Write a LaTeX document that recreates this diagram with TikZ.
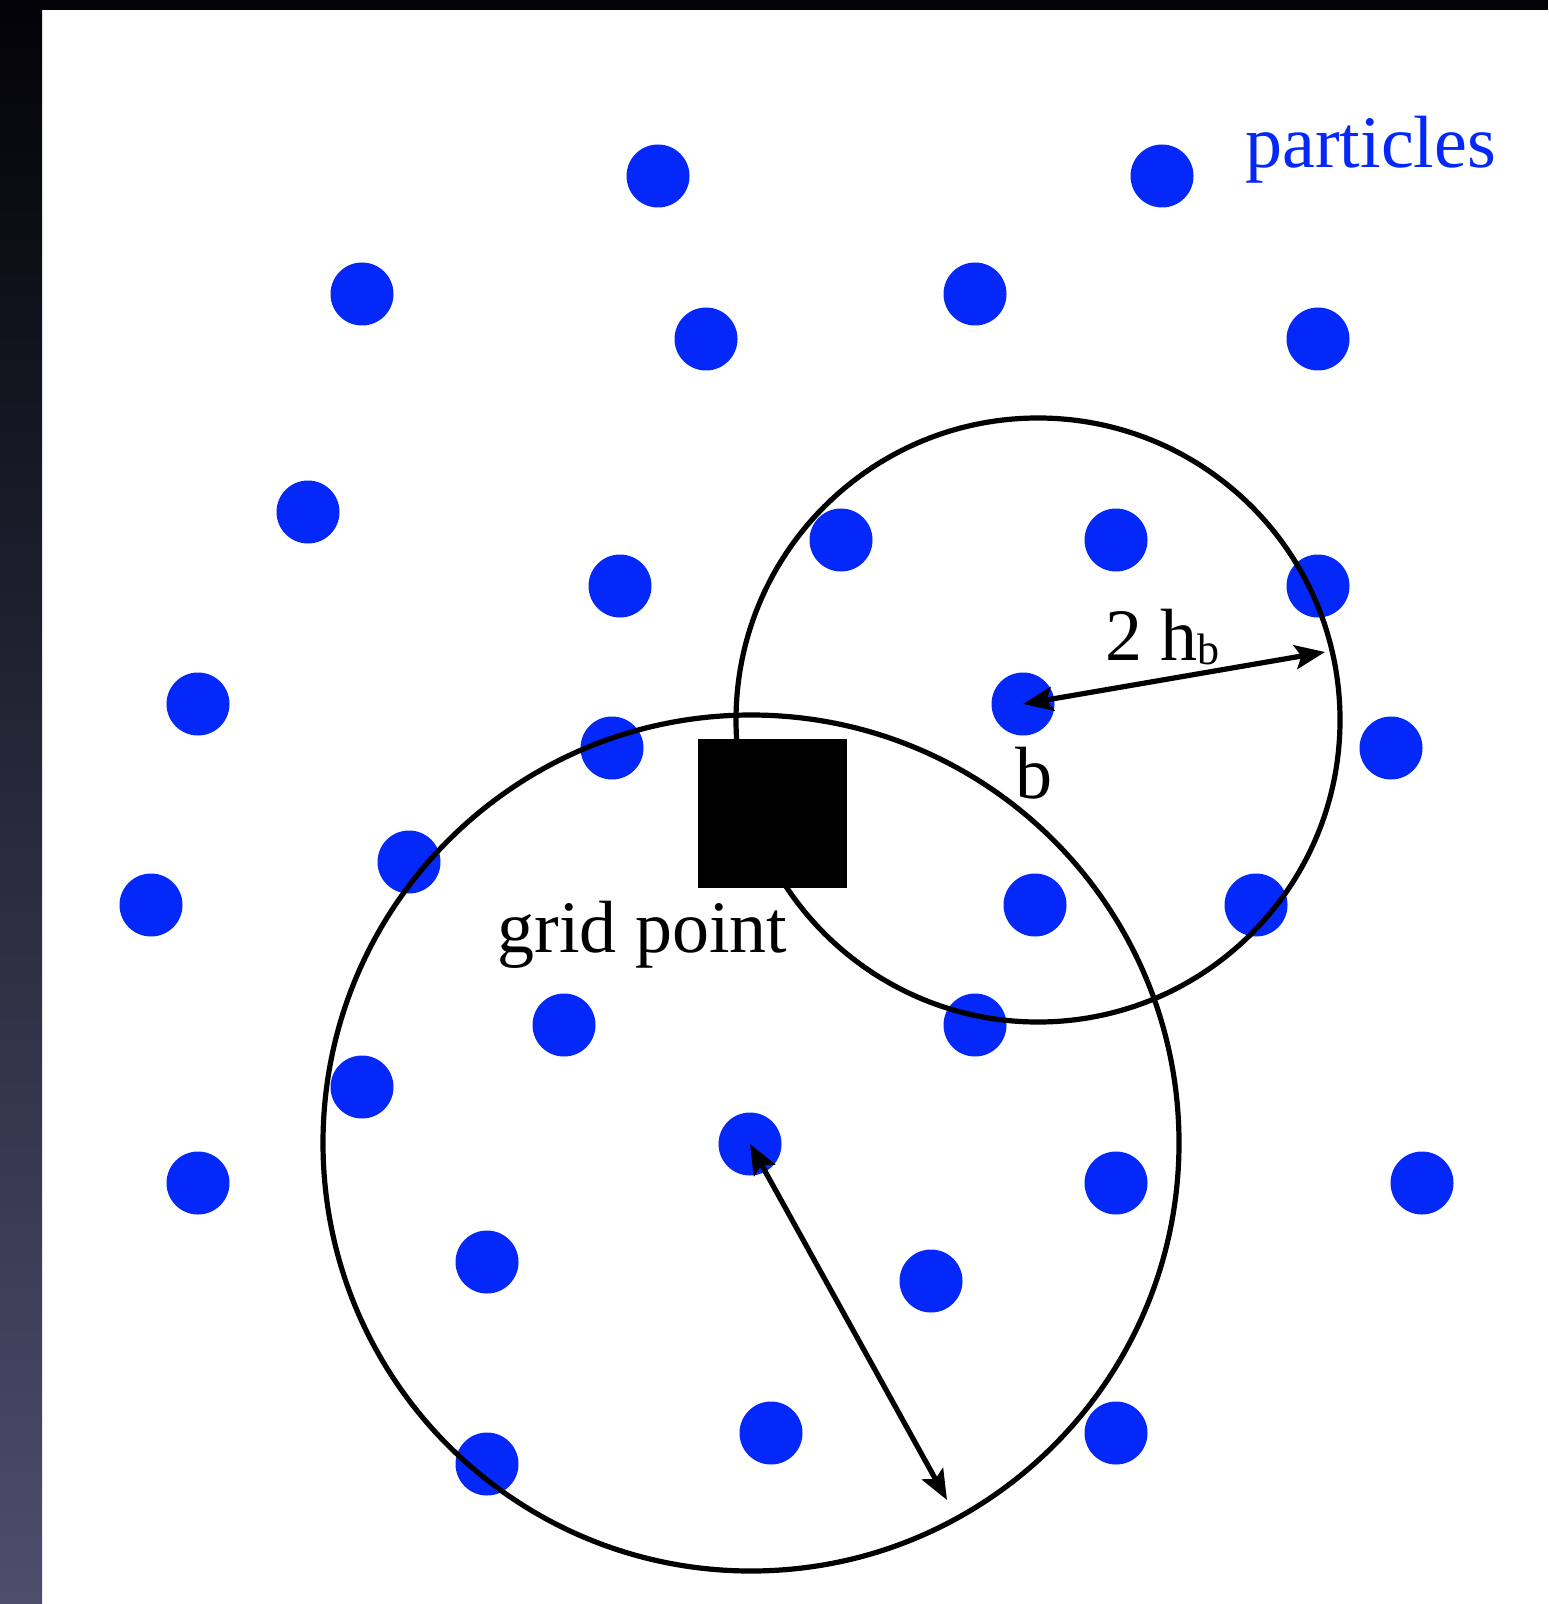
\documentclass[tikz,border=0pt]{standalone}
\usepackage{fontspec}
\setmainfont{Liberation Serif}
\usetikzlibrary{arrows.meta}
\definecolor{pblue}{RGB}{5,40,250}
\definecolor{bartop}{RGB}{3,3,8}
\definecolor{barmid}{RGB}{10,10,50}
\definecolor{barbot}{RGB}{76,78,108}
\begin{document}
\begin{tikzpicture}[x=0.5pt,y=-0.5pt,
  particle/.style={circle,fill=pblue,minimum size=31.5pt,inner sep=0pt},
  ring/.style={line width=2.6pt},
  radiusarrow/.style={line width=2.6pt,{Stealth[length=15pt,width=12pt,inset=3pt]}-{Stealth[length=15pt,width=12pt,inset=3pt]}},
  lbl/.style={font=\fontsize{37}{40}\selectfont,inner sep=0pt,anchor=base west},
  gridbox/.style={fill=black,minimum size=74.5pt,inner sep=0pt}]
\useasboundingbox (0,0) rectangle (1548,1604);
\fill[white] (0,0) rectangle (1548,1604);
\fill[bartop] (0,0) rectangle (1548,10);
\shade[top color=bartop,middle color=barmid,bottom color=barbot] (0,10) rectangle (42,1604);
% particles
\node[particle] (p1) at (658,176) {};
\node[particle] (p2) at (1162,176) {};
\node[particle] (p3) at (362,294) {};
\node[particle] (p4) at (975,294) {};
\node[particle] (p5) at (706,339) {};
\node[particle] (p6) at (1318,339) {};
\node[particle] (p7) at (308,512) {};
\node[particle] (p8) at (841,540) {};
\node[particle] (p9) at (1116,540) {};
\node[particle] (p10) at (620,586) {};
\node[particle] (p11) at (1318,586) {};
\node[particle] (p12) at (198,704) {};
\node[particle] (p13) at (1023,704) {};
\node[particle] (p14) at (612,748) {};
\node[particle] (p15) at (1391,748) {};
\node[particle] (p16) at (409,862) {};
\node[particle] (p17) at (151,905) {};
\node[particle] (p18) at (1035,905) {};
\node[particle] (p19) at (1256,905) {};
\node[particle] (p20) at (564,1025) {};
\node[particle] (p21) at (975,1025) {};
\node[particle] (p22) at (362,1087) {};
\node[particle] (p23) at (750,1144) {};
\node[particle] (p24) at (198,1183) {};
\node[particle] (p25) at (1116,1183) {};
\node[particle] (p26) at (1422,1183) {};
\node[particle] (p27) at (487,1262) {};
\node[particle] (p28) at (931,1281) {};
\node[particle] (p29) at (771,1433) {};
\node[particle] (p30) at (1116,1433) {};
\node[particle] (p31) at (487,1464) {};
% smoothing circles
\coordinate (bigc) at (751,1143);
\coordinate (smallc) at (1038,720);
\draw[ring] (bigc) circle[radius=428];
\draw[ring] (smallc) circle[radius=302];
% radius arrows
\coordinate (e1) at (1325,652);
\coordinate (e2) at (947,1500);
\draw[radiusarrow] (p13.center) -- (e1);
\draw[radiusarrow] (p23.center) -- (e2);
% grid point
\node[gridbox] (grid) at (772.5,813.5) {};
% labels
\node[lbl,text=pblue] (tpart) at (1245,168) {particles};
\node[lbl] (tgrid) at (497,952) {grid point};
\node[lbl] (tb) at (1015,798) {b};
\node[lbl] (th) at (1105,660) {2 h{\fontsize{22}{24}\selectfont\raisebox{-2pt}{b}}};
\end{tikzpicture}
\end{document}
